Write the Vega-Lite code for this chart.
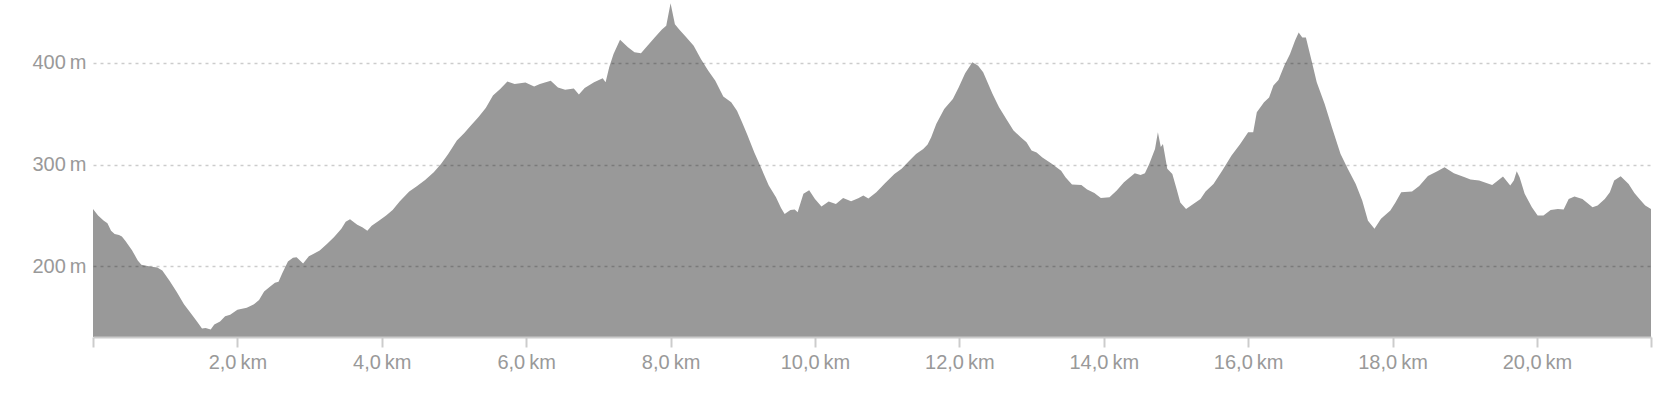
{
  "$schema": "https://vega.github.io/schema/vega-lite/v6.json",
  "width": 1558,
  "height": 337,
  "autosize": "none",
  "padding": {"left": 93, "top": 0, "right": 21, "bottom": 63},
  "background": "white",
  "config": {
    "view": {"stroke": null},
    "font": "Liberation Sans"
  },
  "data": {
    "values": [
      {"km": 0.0, "elevation": 256.6}, {"km": 0.07, "elevation": 250}, {"km": 0.15, "elevation": 245},
      {"km": 0.2, "elevation": 242.5}, {"km": 0.25, "elevation": 235}, {"km": 0.3, "elevation": 232},
      {"km": 0.36, "elevation": 231}, {"km": 0.4, "elevation": 229.5}, {"km": 0.45, "elevation": 225},
      {"km": 0.54, "elevation": 216}, {"km": 0.62, "elevation": 206}, {"km": 0.67, "elevation": 201.6},
      {"km": 0.79, "elevation": 200}, {"km": 0.89, "elevation": 199}, {"km": 0.96, "elevation": 196},
      {"km": 1.06, "elevation": 186}, {"km": 1.16, "elevation": 175}, {"km": 1.26, "elevation": 163},
      {"km": 1.36, "elevation": 153.5}, {"km": 1.43, "elevation": 147}, {"km": 1.51, "elevation": 139},
      {"km": 1.56, "elevation": 139.5}, {"km": 1.63, "elevation": 138}, {"km": 1.68, "elevation": 143},
      {"km": 1.76, "elevation": 146}, {"km": 1.83, "elevation": 151}, {"km": 1.9, "elevation": 152.5},
      {"km": 2.0, "elevation": 157.5}, {"km": 2.13, "elevation": 159.4}, {"km": 2.23, "elevation": 163},
      {"km": 2.3, "elevation": 167}, {"km": 2.37, "elevation": 175.5}, {"km": 2.45, "elevation": 180},
      {"km": 2.52, "elevation": 184}, {"km": 2.57, "elevation": 185}, {"km": 2.62, "elevation": 193},
      {"km": 2.7, "elevation": 205}, {"km": 2.77, "elevation": 208.5}, {"km": 2.82, "elevation": 209},
      {"km": 2.91, "elevation": 203}, {"km": 2.99, "elevation": 210}, {"km": 3.07, "elevation": 213},
      {"km": 3.14, "elevation": 215.7}, {"km": 3.24, "elevation": 222}, {"km": 3.34, "elevation": 229},
      {"km": 3.44, "elevation": 237}, {"km": 3.5, "elevation": 244}, {"km": 3.56, "elevation": 246.5},
      {"km": 3.66, "elevation": 241}, {"km": 3.73, "elevation": 238.6}, {"km": 3.8, "elevation": 235},
      {"km": 3.86, "elevation": 240}, {"km": 3.96, "elevation": 245}, {"km": 4.06, "elevation": 250},
      {"km": 4.15, "elevation": 255.6}, {"km": 4.25, "elevation": 264}, {"km": 4.38, "elevation": 273.6},
      {"km": 4.48, "elevation": 278.6}, {"km": 4.6, "elevation": 285}, {"km": 4.72, "elevation": 292.6},
      {"km": 4.82, "elevation": 300.8}, {"km": 4.92, "elevation": 310.6}, {"km": 5.04, "elevation": 323.7},
      {"km": 5.14, "elevation": 331}, {"km": 5.24, "elevation": 339}, {"km": 5.34, "elevation": 347},
      {"km": 5.44, "elevation": 355.8}, {"km": 5.54, "elevation": 368}, {"km": 5.64, "elevation": 374.5},
      {"km": 5.74, "elevation": 381.7}, {"km": 5.84, "elevation": 379.4}, {"km": 5.99, "elevation": 380.7},
      {"km": 6.11, "elevation": 377}, {"km": 6.19, "elevation": 379.4}, {"km": 6.34, "elevation": 382.6},
      {"km": 6.44, "elevation": 376}, {"km": 6.54, "elevation": 373.8}, {"km": 6.66, "elevation": 375},
      {"km": 6.73, "elevation": 369}, {"km": 6.81, "elevation": 375.5}, {"km": 6.94, "elevation": 381},
      {"km": 7.06, "elevation": 385}, {"km": 7.1, "elevation": 381}, {"km": 7.15, "elevation": 395.7},
      {"km": 7.21, "elevation": 408.8}, {"km": 7.3, "elevation": 422.9}, {"km": 7.41, "elevation": 415.4},
      {"km": 7.5, "elevation": 410.5}, {"km": 7.59, "elevation": 409.5}, {"km": 7.68, "elevation": 417},
      {"km": 7.78, "elevation": 425}, {"km": 7.88, "elevation": 433}, {"km": 7.94, "elevation": 436.7},
      {"km": 8.0, "elevation": 458.6}, {"km": 8.06, "elevation": 438}, {"km": 8.12, "elevation": 433},
      {"km": 8.22, "elevation": 425}, {"km": 8.32, "elevation": 417}, {"km": 8.42, "elevation": 404},
      {"km": 8.52, "elevation": 392.5}, {"km": 8.62, "elevation": 382.6}, {"km": 8.73, "elevation": 367},
      {"km": 8.84, "elevation": 361.4}, {"km": 8.92, "elevation": 353}, {"km": 8.99, "elevation": 341.7},
      {"km": 9.06, "elevation": 330}, {"km": 9.16, "elevation": 312}, {"km": 9.26, "elevation": 296},
      {"km": 9.36, "elevation": 279.5}, {"km": 9.46, "elevation": 268}, {"km": 9.53, "elevation": 257.6},
      {"km": 9.58, "elevation": 251.7}, {"km": 9.66, "elevation": 255.6}, {"km": 9.72, "elevation": 256},
      {"km": 9.76, "elevation": 253.4}, {"km": 9.84, "elevation": 271.4}, {"km": 9.92, "elevation": 275},
      {"km": 10.0, "elevation": 266.4}, {"km": 10.09, "elevation": 259}, {"km": 10.19, "elevation": 263.8},
      {"km": 10.29, "elevation": 261.5}, {"km": 10.39, "elevation": 267.4}, {"km": 10.5, "elevation": 264},
      {"km": 10.6, "elevation": 267}, {"km": 10.67, "elevation": 269.7}, {"km": 10.74, "elevation": 266.8},
      {"km": 10.85, "elevation": 273}, {"km": 10.97, "elevation": 281.8}, {"km": 11.1, "elevation": 291},
      {"km": 11.2, "elevation": 296}, {"km": 11.3, "elevation": 303.4}, {"km": 11.4, "elevation": 310.6},
      {"km": 11.5, "elevation": 315.5}, {"km": 11.56, "elevation": 319.8}, {"km": 11.61, "elevation": 327},
      {"km": 11.68, "elevation": 340}, {"km": 11.79, "elevation": 354.8}, {"km": 11.91, "elevation": 364.6},
      {"km": 11.99, "elevation": 376}, {"km": 12.08, "elevation": 390}, {"km": 12.18, "elevation": 400.7},
      {"km": 12.26, "elevation": 397.4}, {"km": 12.33, "elevation": 390.8}, {"km": 12.46, "elevation": 369.5},
      {"km": 12.55, "elevation": 356.5}, {"km": 12.65, "elevation": 345}, {"km": 12.75, "elevation": 333.6},
      {"km": 12.85, "elevation": 327}, {"km": 12.93, "elevation": 322}, {"km": 13.0, "elevation": 314},
      {"km": 13.07, "elevation": 312}, {"km": 13.15, "elevation": 307}, {"km": 13.27, "elevation": 301.5},
      {"km": 13.41, "elevation": 294}, {"km": 13.47, "elevation": 287.7}, {"km": 13.56, "elevation": 280.5},
      {"km": 13.69, "elevation": 280}, {"km": 13.77, "elevation": 275.6}, {"km": 13.87, "elevation": 272.3},
      {"km": 13.96, "elevation": 267.4}, {"km": 14.08, "elevation": 268}, {"km": 14.18, "elevation": 274.6},
      {"km": 14.28, "elevation": 282.8}, {"km": 14.35, "elevation": 287}, {"km": 14.43, "elevation": 291.7},
      {"km": 14.51, "elevation": 290}, {"km": 14.57, "elevation": 291.7}, {"km": 14.63, "elevation": 300.8},
      {"km": 14.71, "elevation": 315.5}, {"km": 14.75, "elevation": 332}, {"km": 14.79, "elevation": 317.5},
      {"km": 14.82, "elevation": 320.5}, {"km": 14.88, "elevation": 296}, {"km": 14.95, "elevation": 291},
      {"km": 15.01, "elevation": 276}, {"km": 15.06, "elevation": 263}, {"km": 15.14, "elevation": 256.6},
      {"km": 15.24, "elevation": 261.5}, {"km": 15.34, "elevation": 266.4}, {"km": 15.41, "elevation": 273.6},
      {"km": 15.52, "elevation": 281}, {"km": 15.64, "elevation": 294}, {"km": 15.77, "elevation": 309},
      {"km": 15.89, "elevation": 320.5}, {"km": 16.0, "elevation": 332}, {"km": 16.07, "elevation": 332},
      {"km": 16.12, "elevation": 351.6}, {"km": 16.22, "elevation": 361.4}, {"km": 16.29, "elevation": 366},
      {"km": 16.35, "elevation": 377.9}, {"km": 16.42, "elevation": 383.4}, {"km": 16.5, "elevation": 397.4},
      {"km": 16.58, "elevation": 408.8}, {"km": 16.65, "elevation": 422}, {"km": 16.7, "elevation": 430},
      {"km": 16.75, "elevation": 425}, {"km": 16.8, "elevation": 425}, {"km": 16.88, "elevation": 402},
      {"km": 16.95, "elevation": 381}, {"km": 17.06, "elevation": 359.8}, {"km": 17.16, "elevation": 336.9},
      {"km": 17.28, "elevation": 310.6}, {"km": 17.38, "elevation": 296}, {"km": 17.49, "elevation": 281},
      {"km": 17.58, "elevation": 264.8}, {"km": 17.66, "elevation": 245}, {"km": 17.75, "elevation": 237},
      {"km": 17.84, "elevation": 246.8}, {"km": 17.97, "elevation": 255}, {"km": 18.04, "elevation": 263},
      {"km": 18.12, "elevation": 273}, {"km": 18.27, "elevation": 273.6}, {"km": 18.37, "elevation": 279},
      {"km": 18.49, "elevation": 289}, {"km": 18.62, "elevation": 293.6}, {"km": 18.72, "elevation": 297.5},
      {"km": 18.85, "elevation": 291.7}, {"km": 19.0, "elevation": 287.7}, {"km": 19.08, "elevation": 285.4},
      {"km": 19.2, "elevation": 284.5}, {"km": 19.3, "elevation": 282}, {"km": 19.38, "elevation": 280},
      {"km": 19.46, "elevation": 284.5}, {"km": 19.53, "elevation": 288.4}, {"km": 19.63, "elevation": 279.5},
      {"km": 19.68, "elevation": 284.5}, {"km": 19.72, "elevation": 293.6}, {"km": 19.76, "elevation": 287.7},
      {"km": 19.83, "elevation": 271.4}, {"km": 19.93, "elevation": 258.3}, {"km": 20.01, "elevation": 250},
      {"km": 20.09, "elevation": 250}, {"km": 20.19, "elevation": 255.6}, {"km": 20.29, "elevation": 256.6},
      {"km": 20.37, "elevation": 256}, {"km": 20.44, "elevation": 266.4}, {"km": 20.52, "elevation": 268.7},
      {"km": 20.63, "elevation": 266.4}, {"km": 20.69, "elevation": 263}, {"km": 20.77, "elevation": 258.3},
      {"km": 20.84, "elevation": 260}, {"km": 20.94, "elevation": 266.4}, {"km": 21.01, "elevation": 273},
      {"km": 21.07, "elevation": 284.5}, {"km": 21.16, "elevation": 288.7}, {"km": 21.27, "elevation": 281},
      {"km": 21.35, "elevation": 272.3}, {"km": 21.42, "elevation": 266.4}, {"km": 21.5, "elevation": 260},
      {"km": 21.58, "elevation": 256.6}
    ]
  },
  "mark": {"type": "area", "color": "#999999", "interpolate": "linear", "clip": true},
  "encoding": {
    "x": {
      "field": "km",
      "type": "quantitative",
      "scale": {"domain": [0, 21.58], "nice": false, "zero": false},
      "axis": {
        "title": null,
        "values": [0, 2, 4, 6, 8, 10, 12, 14, 16, 18, 20, 21.58],
        "labelExpr": "datum.value == 0 || datum.value > 21 ? '' : replace(format(datum.value, '.1f'), '.', ',') + '\u2009km'",
        "grid": false,
        "domainColor": "#cccccc",
        "domainWidth": 2,
        "tickColor": "#cccccc",
        "tickWidth": 2,
        "tickSize": 10,
        "labelPadding": 5,
        "labelFont": "Liberation Sans",
        "labelFontSize": 20,
        "labelColor": "#999999",
        "labelFlush": false,
        "labelOverlap": false,
        "zindex": 1
      }
    },
    "y": {
      "field": "elevation",
      "type": "quantitative",
      "scale": {"domain": [130.7, 461.9], "nice": false, "zero": false},
      "axis": {
        "title": null,
        "values": [200, 300, 400],
        "labelExpr": "datum.value + '\u2009m'",
        "domain": false,
        "ticks": false,
        "grid": true,
        "gridColor": "#000000",
        "gridOpacity": 0.2,
        "gridWidth": 1.5,
        "gridDash": [3, 4],
        "labelPadding": 7,
        "labelFont": "Liberation Sans",
        "labelFontSize": 20,
        "labelColor": "#999999",
        "zindex": 1
      }
    },
    "y2": {"datum": 130.7}
  }
}
